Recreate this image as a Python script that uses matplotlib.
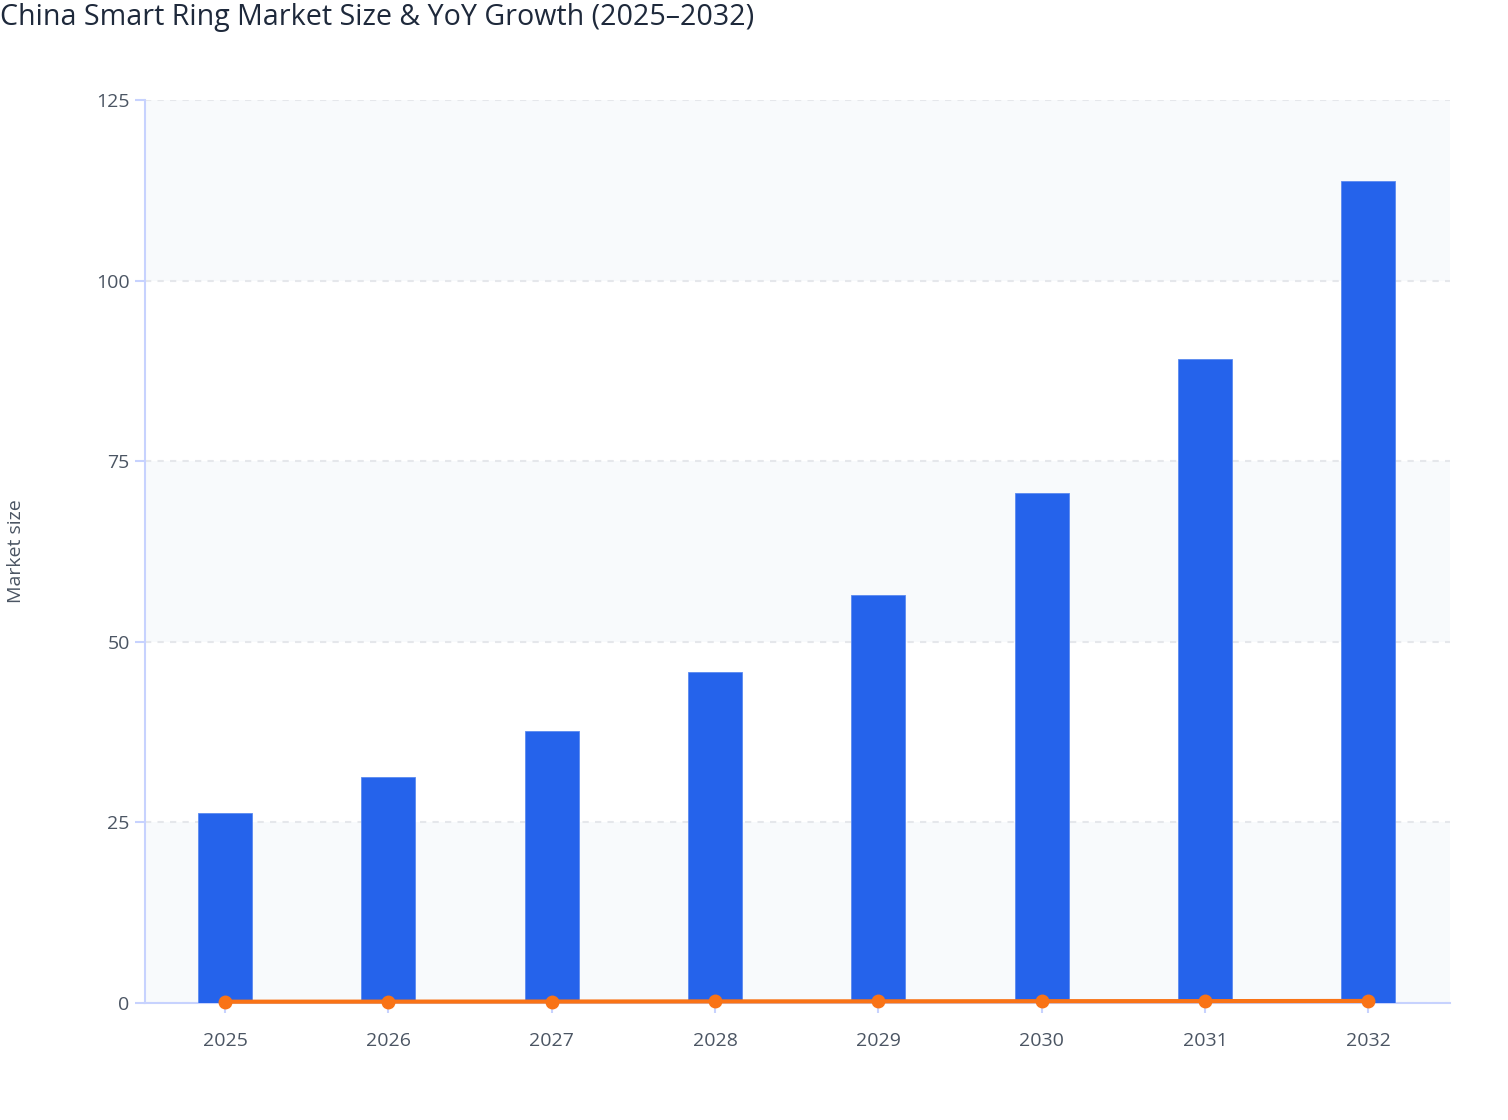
import matplotlib
matplotlib.use("Agg")
import matplotlib.pyplot as plt
import numpy as np

# data
years = ["2025", "2026", "2027", "2028", "2029", "2030", "2031", "2032"]
market_size = [26.3, 31.3, 37.6, 45.8, 56.5, 70.6, 89.1, 113.8]
yoy_growth = [0.18, 0.19, 0.20, 0.22, 0.23, 0.25, 0.26, 0.28]
y_ticks = [0, 25, 50, 75, 100, 125]

plt.rcParams['font.family'] = ['Open Sans', 'DejaVu Sans']

fig = plt.figure(figsize=(15.08, 11.2), dpi=100)
ax = fig.add_axes([145 / 1508, 1 - 1003 / 1120, (1450 - 145) / 1508, (1003 - 100) / 1120])

x = np.arange(len(years))

# alternating background bands
for i in range(0, len(y_ticks) - 1, 2):
    ax.axhspan(y_ticks[i], y_ticks[i + 1], color="#f8fafc", zorder=0, lw=0)

ax.bar(x, market_size, width=0.33, color="#2563eb", edgecolor="#5b8af0", linewidth=0.6, zorder=3)
ax.plot(x, yoy_growth, color="#f97316", lw=3, marker="o", markersize=9, zorder=4,
        clip_on=False)

ax.set_xlim(-0.49, 7.5)
ax.set_ylim(0, 125)
ax.set_xticks(x)
ax.set_xticklabels(years)
ax.set_yticks(y_ticks)

ax.yaxis.grid(True, color="#e5e7eb", lw=1.5, linestyle=(0, (3, 3)), zorder=1)
ax.set_axisbelow(True)

for side in ["top", "right"]:
    ax.spines[side].set_visible(False)
for side in ["left", "bottom"]:
    ax.spines[side].set_color("#c7d2fe")
    ax.spines[side].set_linewidth(1.5)
    ax.spines[side].set_zorder(2)

ax.tick_params(axis="both", colors="#c7d2fe", labelcolor="#4b5563", labelsize=14,
               length=7, width=1.5)
ax.tick_params(axis="x", pad=14)
ax.tick_params(axis="y", pad=4)

ax.set_ylabel("Market size", fontsize=14, color="#4b5563", labelpad=0)
ax.yaxis.set_label_coords(-120 / 1305, 0.5)

fig.text(0, 1 - 18 / 1120, "China Smart Ring Market Size & YoY Growth (2025\u20132032)",
         fontsize=20.6, color="#1e293b", ha="left", va="center")

fig.savefig("out.png", dpi=100, facecolor="white")
